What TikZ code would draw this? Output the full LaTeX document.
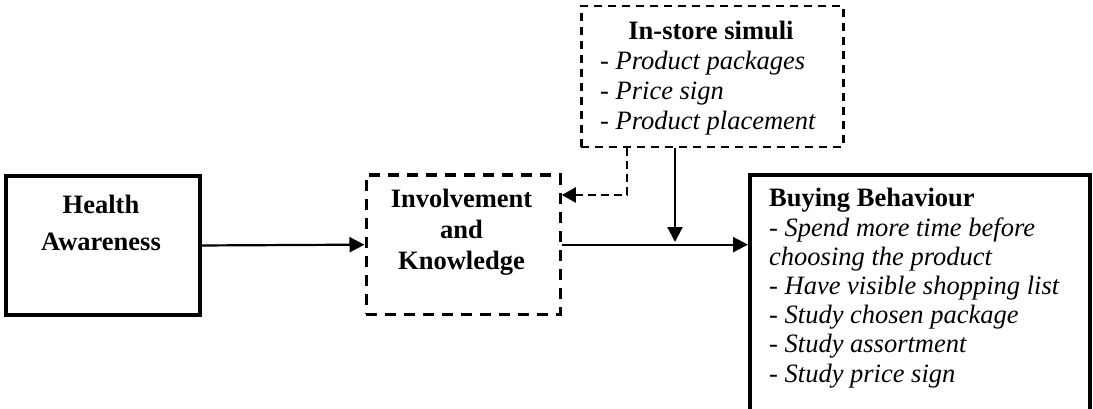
\documentclass[tikz,border=0pt]{standalone}
\usepackage{fontspec}
\setmainfont{Liberation Serif}
\usetikzlibrary{arrows.meta}

\tikzset{
  solidbox/.style={draw, line width=4pt, inner sep=0pt, anchor=north west},
  dashbox/.style={draw, line width=3.3pt, dash pattern=on 11pt off 8pt, inner sep=0pt, anchor=north west},
  thinbox/.style={draw, line width=2.5pt, dash pattern=on 8pt off 6pt, inner sep=0pt, anchor=north west},
  boxtext/.style={inner sep=0pt, font=\fontsize{26.5}{#1}\selectfont},
  link/.style={line width=2.2pt, -{Triangle[length=15pt,width=15pt]}},
  dashlink/.style={line width=2.2pt, dash pattern=on 8pt off 5pt, -{Triangle[length=14pt,width=15pt]}}
}

\begin{document}
\begin{tikzpicture}[x=1pt, y=-1pt]
  \useasboundingbox (0,0) rectangle (1093,409);
  \clip (0,0) rectangle (1093,409);

  % boxes
  \node[solidbox, minimum width=194pt, minimum height=139pt] (ha) at (4,174) {};
  \node[dashbox, minimum width=194pt, minimum height=139pt] (inv) at (364.5,173.5) {};
  \node[thinbox, minimum width=262pt, minimum height=141pt] (is) at (580,5) {};
  \node[solidbox, minimum width=340pt, minimum height=260pt] (bb) at (748,173) {};

  % box texts (anchored on the baseline of the last line)
  \node[boxtext=37, align=center, anchor=base] (hatext) at (101,250)
    {\textbf{Health}\\\textbf{Awareness}};
  \node[boxtext=31, align=center, anchor=base] (invtext) at (461.5,269)
    {\textbf{Involvement}\\\textbf{and}\\\textbf{Knowledge}};
  \node[boxtext=30, anchor=base] (istitle) at (711,40) {\textbf{In-store simuli}};
  \node[boxtext=30, align=left, anchor=base west] (islist) at (600,130)
    {- \textit{Product packages}\\- \textit{Price sign}\\- \textit{Product placement}};
  \node[boxtext=29.2, align=left, anchor=base west] (bbtext) at (769,382)
    {\textbf{Buying Behaviour}\\- \textit{Spend more time before}\\\textit{choosing the product}\\- \textit{Have visible shopping list}\\- \textit{Study chosen package}\\- \textit{Study assortment}\\- \textit{Study price sign}};

  % connectors
  \coordinate (join) at (675,242);
  \coordinate (back) at (627,195);
  \draw[link] ([xshift=-4pt]ha.east) -- (inv.west);
  \draw[link] (inv.east) -- (inv.east -| bb.west);
  \draw[link] (is.south -| join) -- (join);
  \draw[dashlink] (is.south -| back) |- (inv.east |- back);
\end{tikzpicture}
\end{document}
